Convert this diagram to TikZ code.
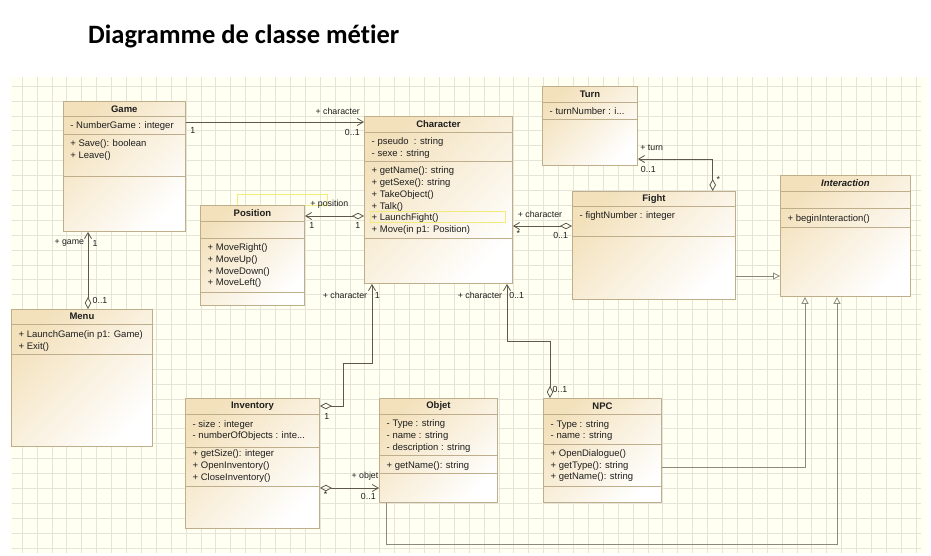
\documentclass[tikz,border=0pt]{standalone}
\usepackage{fontspec}
\setmainfont{Liberation Sans}
\newfontfamily\titlefont[Ligatures=NoCommon,RawFeature={-liga;-dlig;-clig}]{Carlito}
\usetikzlibrary{arrows.meta}
\definecolor{bg}{HTML}{FFFFF2}
\definecolor{gridc}{HTML}{E4E4D9}
\definecolor{boxc}{HTML}{BFAE8C}
\definecolor{fillc}{HTML}{F3E1BC}
\definecolor{linec}{HTML}{5E5848}
\definecolor{genc}{HTML}{8C8A7C}
\definecolor{hil}{HTML}{F2EA7A}
\definecolor{txtc}{HTML}{1E1E1E}
\newcommand\csep[2]{\draw[sepl] (#1.west |- 0,#2) -- (#1.east |- 0,#2);}
\begin{document}
\begin{tikzpicture}[x=1pt,y=-1pt,
  cls/.style={draw=boxc, line width=0.9pt, left color=fillc, right color=white, shading angle=45, inner sep=0pt, anchor=north west},
  sepl/.style={draw=boxc, line width=0.9pt},
  txt/.style={font=\fontsize{9.5}{11.7}\selectfont, text=txtc, align=left, anchor=north west, inner sep=0pt},
  ttl/.style={font=\fontsize{9.5}{11.7}\selectfont\bfseries, text=txtc, anchor=center, inner sep=0pt},
  lbl/.style={font=\fontsize{8.8}{10}\selectfont, text=txtc, inner sep=0pt},
  assoc/.style={draw=linec, line width=0.8pt, -{Straight Barb[length=6pt,width=7pt]}},
  agg/.style={draw=linec, line width=0.8pt, {Diamond[open,length=12pt,width=6.5pt]}-{Straight Barb[length=6pt,width=7pt]}},
  gen/.style={draw=genc, line width=0.8pt, -{Triangle[open,length=7pt,width=7pt]}}
]
\useasboundingbox (0,0) rectangle (931,555);
% title
\node[font=\titlefont\bfseries\fontsize{26.5}{31}\selectfont, anchor=base west, inner sep=0pt] (title) at (88,43) {Diagramme de classe mét\kern0pt ier};
% canvas
\fill[bg] (10,76.5) rectangle (927,553);
\draw[gridc, line width=0.6pt] foreach \i in {0,...,60} {(22+14.9*\i,76.5) -- (22+14.9*\i,553)};
\draw[gridc, line width=0.6pt] foreach \j in {0,...,31} {(11.7,86+14.9*\j) -- (921,86+14.9*\j)};
\draw[hil, line width=0.8pt] (237,194) rectangle (327,205.5);

% ---------- Game
\node[cls, minimum width=122.3, minimum height=130] (game) at (62.7,101) {};
\csep{game}{116.7}\csep{game}{134}\csep{game}{176.7}
\node[ttl] (gameN) at (game.north |- 0,108.8) {Game};
\node[txt] (gameA) at (70.2,120.3) {\strut- NumberGame : integer};
\node[txt] (gameM) at (70.2,138.3) {\strut+ Save(): boolean\\+ Leave()};

% ---------- Position
\node[cls, minimum width=104, minimum height=100] (position) at (200,205) {};
\csep{position}{221}\csep{position}{238}\csep{position}{292}
\node[ttl] (positionN) at (position.north |- 0,213) {Position};
\node[txt] (positionM) at (207.5,242.3) {\strut+ MoveRight()\\+ MoveUp()\\+ MoveDown()\\+ MoveLeft()};

% ---------- Character
\node[cls, minimum width=148, minimum height=167] (character) at (364,116) {};
\csep{character}{132}\csep{character}{161}\csep{character}{238}
\draw[hil, line width=0.8pt] (370.7,211.7) rectangle (505.7,222.7);
\node[ttl] (characterN) at (character.north |- 0,124) {Character};
\node[txt] (characterA) at (371.5,136) {\strut- pseudo~~: string\\- sexe : string};
\node[txt] (characterM) at (371.5,165.6) {\strut+ getName(): string\\+ getSexe(): string\\+ TakeObject()\\+ Talk()\\+ LaunchFight()\\+ Move(in p1: Position)};

% ---------- Turn
\node[cls, minimum width=95, minimum height=79] (turn) at (542,86) {};
\csep{turn}{102}\csep{turn}{119}
\node[ttl] (turnN) at (turn.north |- 0,94) {Turn};
\node[txt] (turnA) at (549.5,106) {\strut- turnNumber : i...};

% ---------- Fight
\node[cls, minimum width=163, minimum height=108] (fight) at (572,191) {};
\csep{fight}{206}\csep{fight}{236}
\node[ttl] (fightN) at (fight.north |- 0,198.7) {Fight};
\node[txt] (fightA) at (579.5,210.3) {\strut- fightNumber : integer};

% ---------- Interaction
\node[cls, minimum width=130, minimum height=121] (interaction) at (780,175) {};
\csep{interaction}{191}\csep{interaction}{208}\csep{interaction}{227}
\node[ttl, font=\fontsize{9.5}{11.7}\selectfont\bfseries\itshape] (interactionN) at (interaction.north |- 0,183) {Interaction};
\node[txt] (interactionM) at (787.5,213.6) {\strut+ beginInteraction()};

% ---------- Menu
\node[cls, minimum width=141, minimum height=137] (menu) at (11,309) {};
\csep{menu}{324}\csep{menu}{354}
\node[ttl] (menuN) at (menu.north |- 0,316.7) {Menu};
\node[txt] (menuM) at (18.5,329.3) {\strut+ LaunchGame(in p1: Game)\\+ Exit()};

% ---------- Inventory
\node[cls, minimum width=134, minimum height=130] (inventory) at (185,398) {};
\csep{inventory}{414}\csep{inventory}{447}\csep{inventory}{486}
\node[ttl] (inventoryN) at (inventory.north |- 0,406) {Inventory};
\node[txt] (inventoryA) at (192.5,418.6) {\strut- size : integer\\- numberOfObjects : inte...};
\node[txt] (inventoryM) at (192.5,448.6) {\strut+ getSize(): integer\\+ OpenInventory()\\+ CloseInventory()};

% ---------- Objet
\node[cls, minimum width=118, minimum height=104] (objet) at (379,398) {};
\csep{objet}{414}\csep{objet}{455}\csep{objet}{473}
\node[ttl] (objetN) at (objet.north |- 0,406) {Objet};
\node[txt] (objetA) at (386.5,418.6) {\strut- Type : string\\- name : string\\- description : string};
\node[txt] (objetM) at (386.5,460.3) {\strut+ getName(): string};

% ---------- NPC
\node[cls, minimum width=118, minimum height=104] (npc) at (543,398) {};
\csep{npc}{414}\csep{npc}{444}\csep{npc}{486}
\node[ttl] (npcN) at (npc.north |- 0,406) {NPC};
\node[txt] (npcA) at (550.5,418.6) {\strut- Type : string\\- name : string};
\node[txt] (npcM) at (550.5,448) {\strut+ OpenDialogue()\\+ getType(): string\\+ getName(): string};

% ---------- connectors
\draw[assoc] (game.east |- 0,122) -- (character.west |- 0,122);
\draw[agg] (character.west |- 0,216) -- (position.east |- 0,216);
\draw[agg] (fight.west |- 0,226) -- (character.east |- 0,226);
\draw[agg] (fight.north -| 712.7,0) |- (turn.east |- 0,159);
\draw[gen] (fight.east |- 0,276) -- (interaction.west |- 0,276);
\draw[gen] (npc.east |- 0,467) -| (interaction.south -| 805,0);
\draw[gen] (objet.south -| 386,0) -- (386,544) -| (interaction.south -| 837,0);
\draw[agg] (menu.north -| 88,0) -- (game.south -| 88,0);
\draw[agg] (inventory.east |- 0,406) -| (343,363) -| (character.south -| 372,0);
\draw[agg] (npc.north -| 550,0) |- (507,341) -- (character.south -| 507,0);
\draw[agg] (inventory.east |- 0,488) -- (objet.west |- 0,488);

% ---------- labels
\node[lbl] (l1) at (192.7,130.3) {1};
\node[lbl] (l2) at (337.7,111.7) {+ character};
\node[lbl] (l3) at (352.3,132.7) {0..1};
\node[lbl] (l4) at (329.3,204.3) {+ position};
\node[lbl] (l5) at (311.7,225.7) {1};
\node[lbl] (l6) at (357.7,225.7) {1};
\node[lbl] (l7) at (540,214.3) {+ character};
\node[lbl] (l8) at (518.3,233) {*};
\node[lbl] (l9) at (560.7,235.7) {0..1};
\node[lbl] (l10) at (651.7,147.7) {+ turn};
\node[lbl] (l11) at (648.3,169.3) {0..1};
\node[lbl] (l12) at (718.3,179) {*};
\node[lbl] (l13) at (69.3,243.3) {+ game};
\node[lbl] (l14) at (95,243.3) {1};
\node[lbl] (l15) at (100,300) {0..1};
\node[lbl] (l16) at (345,295) {+ character};
\node[lbl] (l17) at (377.3,295) {1};
\node[lbl] (l18) at (326.7,416) {1};
\node[lbl] (l19) at (480,295) {+ character};
\node[lbl] (l20) at (516.7,295) {0..1};
\node[lbl] (l21) at (560,389) {0..1};
\node[lbl] (l22) at (365,476) {+ objet};
\node[lbl] (l23) at (325.7,494) {*};
\node[lbl] (l24) at (368.3,496.7) {0..1};
\end{tikzpicture}
\end{document}
